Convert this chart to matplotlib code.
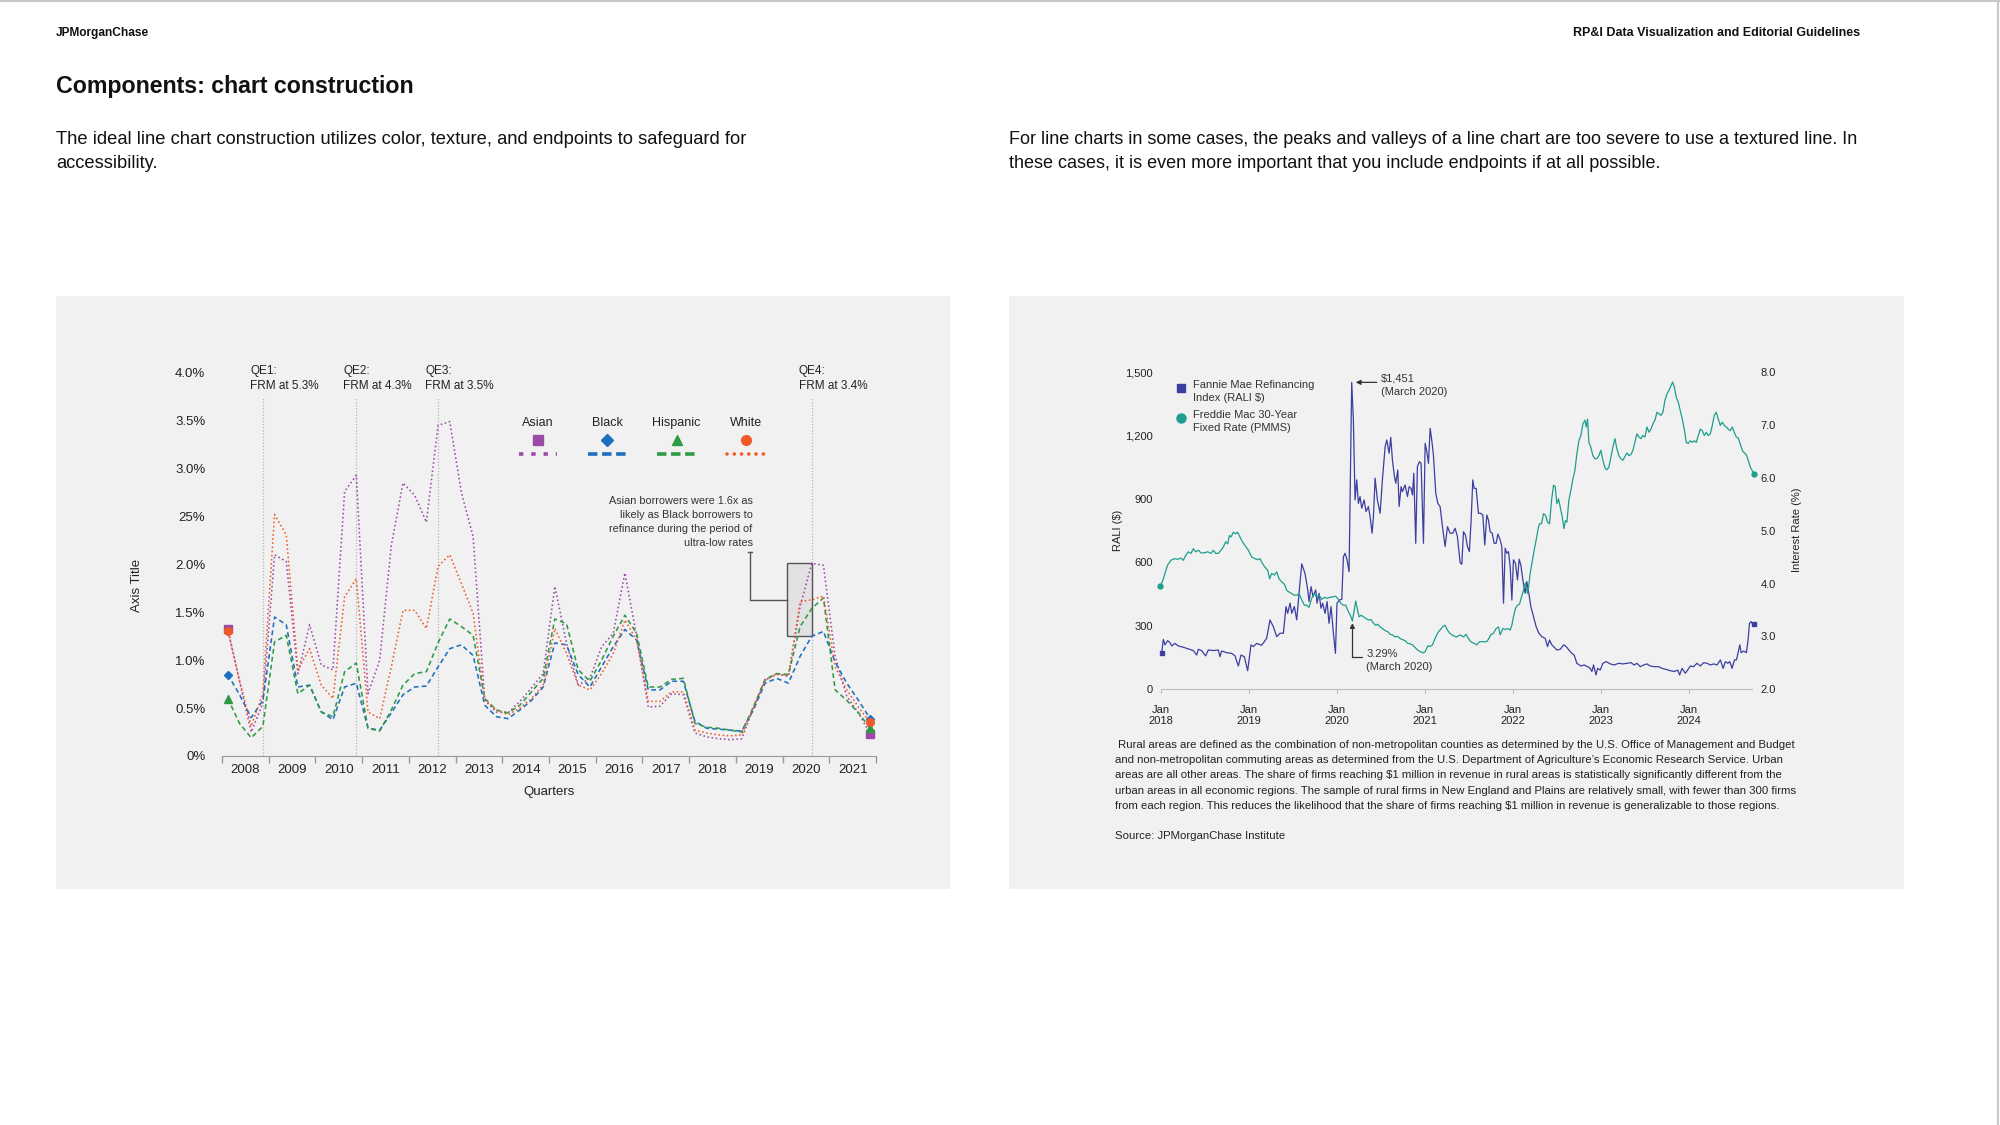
import numpy as np
import matplotlib
matplotlib.use("Agg")
import matplotlib.pyplot as plt
from matplotlib.patches import Rectangle
from matplotlib.lines import Line2D

plt.rcParams['font.family'] = ['Liberation Sans', 'DejaVu Sans']

# ---------------- left chart data (quarterly refinance rates, %) ----------------
years = [str(y) for y in range(2008, 2022)]
asian = [1.33, 0.78, 0.25, 0.55, 2.10, 2.03, 0.86, 1.37, 0.95, 0.90,
         2.76, 2.93, 0.65, 1.00, 2.20, 2.85, 2.72, 2.44, 3.45, 3.49,
         2.75, 2.29, 0.58, 0.46, 0.45, 0.57, 0.71, 0.86, 1.77, 1.18,
         0.74, 0.81, 1.14, 1.28, 1.91, 1.25, 0.51, 0.52, 0.65, 0.64,
         0.24, 0.20, 0.18, 0.17, 0.18, 0.50, 0.79, 0.86, 0.83, 1.56,
         2.01, 1.99, 1.04, 0.62, 0.45, 0.23]
black = [0.85, 0.64, 0.40, 0.58, 1.45, 1.37, 0.72, 0.74, 0.46, 0.38,
         0.72, 0.76, 0.29, 0.27, 0.45, 0.64, 0.72, 0.73, 0.93, 1.12,
         1.16, 1.05, 0.53, 0.41, 0.39, 0.48, 0.58, 0.72, 1.18, 1.16,
         0.85, 0.72, 0.93, 1.14, 1.32, 1.21, 0.69, 0.69, 0.78, 0.78,
         0.36, 0.29, 0.28, 0.27, 0.26, 0.48, 0.76, 0.81, 0.76, 1.04,
         1.25, 1.30, 0.98, 0.76, 0.58, 0.39]
hispanic = [0.60, 0.34, 0.19, 0.31, 1.19, 1.26, 0.65, 0.74, 0.46, 0.41,
            0.88, 0.97, 0.29, 0.26, 0.48, 0.74, 0.86, 0.88, 1.18, 1.43,
            1.35, 1.26, 0.60, 0.48, 0.45, 0.53, 0.67, 0.81, 1.43, 1.38,
            0.90, 0.78, 1.00, 1.25, 1.47, 1.28, 0.72, 0.72, 0.80, 0.81,
            0.34, 0.30, 0.29, 0.27, 0.25, 0.51, 0.80, 0.86, 0.85, 1.35,
            1.54, 1.65, 0.69, 0.58, 0.45, 0.29]
white = [1.30, 0.79, 0.31, 0.65, 2.52, 2.31, 0.90, 1.12, 0.74, 0.60,
         1.66, 1.85, 0.46, 0.39, 0.93, 1.52, 1.52, 1.33, 1.98, 2.10,
         1.80, 1.49, 0.58, 0.48, 0.43, 0.50, 0.60, 0.74, 1.33, 1.07,
         0.74, 0.69, 0.86, 1.07, 1.42, 1.21, 0.57, 0.57, 0.67, 0.67,
         0.27, 0.24, 0.22, 0.21, 0.22, 0.51, 0.79, 0.85, 0.84, 1.61,
         1.63, 1.67, 0.93, 0.69, 0.51, 0.35]
ytick_labels = ['0%', '0.5%', '1.0%', '1.5%', '2.0%', '25%', '3.0%', '3.5%', '4.0%']
qe_quarter = [3, 11, 18, 50]
qe_labels = ['QE1:\nFRM at 5.3%', 'QE2:\nFRM at 4.3%', 'QE3:\nFRM at 3.5%', 'QE4:\nFRM at 3.4%']

# ---------------- right chart data (weekly) ----------------
rali_year = [2018.004, 2018.023, 2018.042, 2018.072, 2018.099, 2018.118, 2018.155, 2018.193, 2018.250, 2018.307,
             2018.364, 2018.402, 2018.421, 2018.459, 2018.504, 2018.535, 2018.592, 2018.648, 2018.667, 2018.686,
             2018.743, 2018.800, 2018.838, 2018.876, 2018.906, 2018.944, 2018.982, 2019.020, 2019.047, 2019.085,
             2019.141, 2019.198, 2019.236, 2019.274, 2019.312, 2019.350, 2019.388, 2019.418, 2019.437, 2019.464,
             2019.483, 2019.513, 2019.540, 2019.566, 2019.597, 2019.634, 2019.665, 2019.680, 2019.703, 2019.725,
             2019.756, 2019.771, 2019.794, 2019.816, 2019.835, 2019.862, 2019.885, 2019.907, 2019.930, 2019.957,
             2019.980, 2019.998, 2020.025, 2020.052, 2020.071, 2020.089, 2020.112, 2020.135, 2020.165, 2020.184,
             2020.203, 2020.222, 2020.241, 2020.260, 2020.279, 2020.306, 2020.328, 2020.355, 2020.374, 2020.397,
             2020.412, 2020.431, 2020.457, 2020.488, 2020.514, 2020.545, 2020.564, 2020.590, 2020.609, 2020.628,
             2020.651, 2020.666, 2020.689, 2020.704, 2020.727, 2020.742, 2020.772, 2020.799, 2020.818, 2020.840,
             2020.856, 2020.871, 2020.893, 2020.912, 2020.935, 2020.954, 2020.981, 2021.000, 2021.019, 2021.038,
             2021.057, 2021.075, 2021.094, 2021.121, 2021.144, 2021.170, 2021.197, 2021.227, 2021.254, 2021.284,
             2021.314, 2021.341, 2021.367, 2021.398, 2021.417, 2021.436, 2021.458, 2021.481, 2021.503, 2021.523,
             2021.542, 2021.557, 2021.580, 2021.606, 2021.633, 2021.656, 2021.678, 2021.701, 2021.720, 2021.739,
             2021.762, 2021.785, 2021.807, 2021.827, 2021.853, 2021.872, 2021.891, 2021.910, 2021.929, 2021.948,
             2021.967, 2021.986, 2022.004, 2022.027, 2022.050, 2022.069, 2022.088, 2022.111, 2022.137, 2022.156,
             2022.179, 2022.202, 2022.232, 2022.262, 2022.293, 2022.327, 2022.365, 2022.392, 2022.414, 2022.441,
             2022.467, 2022.498, 2022.536, 2022.574, 2022.604, 2022.634, 2022.668, 2022.695, 2022.725, 2022.771,
             2022.809, 2022.847, 2022.877, 2022.896, 2022.915, 2022.942, 2022.961, 2022.991, 2023.021, 2023.059,
             2023.105, 2023.150, 2023.200, 2023.249, 2023.294, 2023.340, 2023.378, 2023.408, 2023.446, 2023.484,
             2023.522, 2023.560, 2023.606, 2023.655, 2023.693, 2023.731, 2023.788, 2023.833, 2023.871, 2023.894,
             2023.921, 2023.958, 2023.985, 2024.015, 2024.053, 2024.091, 2024.129, 2024.167, 2024.205, 2024.243,
             2024.281, 2024.319, 2024.357, 2024.388, 2024.414, 2024.441, 2024.464, 2024.490, 2024.517, 2024.540,
             2024.566, 2024.578, 2024.593, 2024.623, 2024.653, 2024.672, 2024.688, 2024.707, 2024.729, 2024.742]
rali_val = [170, 236, 210, 230, 220, 205, 217, 205, 199, 191,
            183, 162, 189, 183, 158, 186, 183, 186, 154, 181,
            173, 170, 158, 110, 162, 154, 88, 210, 202, 217,
            208, 241, 328, 296, 249, 265, 265, 391, 359, 407,
            359, 391, 328, 454, 593, 548, 470, 415, 485, 438,
            470, 407, 454, 383, 407, 359, 415, 312, 391, 265,
            170, 407, 422, 425, 627, 643, 612, 556, 1451, 1273,
            895, 990, 879, 911, 856, 895, 840, 864, 816, 738,
            816, 998, 895, 832, 990, 1147, 1179, 1116, 1191, 1084,
            1006, 974, 1037, 864, 958, 935, 966, 911, 958, 950,
            919, 1021, 690, 1053, 1076, 1068, 690, 1163, 1124, 1068,
            1234, 1179, 1108, 927, 879, 864, 769, 675, 769, 738,
            738, 761, 722, 598, 591, 745, 730, 675, 651, 800,
            990, 950, 950, 832, 832, 824, 682, 824, 800, 745,
            738, 690, 690, 734, 706, 675, 407, 667, 643, 651,
            580, 422, 612, 596, 517, 615, 588, 517, 454, 509,
            454, 391, 344, 296, 265, 249, 241, 202, 233, 210,
            199, 186, 189, 210, 202, 186, 170, 162, 123, 110,
            115, 107, 99, 84, 115, 68, 99, 91, 123, 131,
            120, 115, 123, 120, 123, 126, 115, 123, 107, 115,
            120, 110, 107, 107, 99, 95, 88, 84, 91, 68,
            99, 76, 91, 110, 107, 123, 110, 126, 123, 115,
            120, 115, 139, 99, 131, 123, 131, 99, 139, 139,
            186, 210, 173, 181, 173, 233, 312, 320, 304, 307]

rate_year = [2017.985, 2018.011, 2018.042, 2018.072, 2018.110, 2018.148, 2018.186, 2018.224, 2018.250, 2018.277,
             2018.307, 2018.338, 2018.364, 2018.391, 2018.421, 2018.451, 2018.489, 2018.527, 2018.565, 2018.592,
             2018.618, 2018.648, 2018.679, 2018.705, 2018.732, 2018.755, 2018.774, 2018.793, 2018.819, 2018.846,
             2018.868, 2018.895, 2018.921, 2018.952, 2018.990, 2019.028, 2019.066, 2019.096, 2019.122, 2019.149,
             2019.179, 2019.210, 2019.232, 2019.255, 2019.286, 2019.312, 2019.339, 2019.369, 2019.399, 2019.426,
             2019.452, 2019.483, 2019.513, 2019.540, 2019.566, 2019.597, 2019.627, 2019.653, 2019.680, 2019.710,
             2019.741, 2019.767, 2019.794, 2019.824, 2019.854, 2019.881, 2019.919, 2019.957, 2019.983, 2020.014,
             2020.044, 2020.071, 2020.097, 2020.127, 2020.157, 2020.173, 2020.211, 2020.230, 2020.249, 2020.272,
             2020.298, 2020.325, 2020.355, 2020.385, 2020.412, 2020.438, 2020.461, 2020.488, 2020.514, 2020.545,
             2020.575, 2020.601, 2020.628, 2020.658, 2020.689, 2020.715, 2020.742, 2020.772, 2020.802, 2020.829,
             2020.856, 2020.886, 2020.916, 2020.947, 2020.973, 2021.000, 2021.030, 2021.057, 2021.083, 2021.113,
             2021.144, 2021.174, 2021.204, 2021.227, 2021.250, 2021.280, 2021.322, 2021.360, 2021.398, 2021.436,
             2021.466, 2021.492, 2021.519, 2021.542, 2021.568, 2021.587, 2021.618, 2021.644, 2021.671, 2021.701,
             2021.724, 2021.747, 2021.777, 2021.807, 2021.834, 2021.853, 2021.883, 2021.910, 2021.936, 2021.967,
             2021.986, 2022.004, 2022.027, 2022.050, 2022.073, 2022.096, 2022.118, 2022.141, 2022.164, 2022.179,
             2022.194, 2022.217, 2022.240, 2022.262, 2022.285, 2022.300, 2022.323, 2022.346, 2022.369, 2022.392,
             2022.414, 2022.437, 2022.460, 2022.479, 2022.498, 2022.517, 2022.536, 2022.559, 2022.578, 2022.596,
             2022.612, 2022.634, 2022.657, 2022.680, 2022.703, 2022.725, 2022.748, 2022.771, 2022.794, 2022.817,
             2022.832, 2022.847, 2022.862, 2022.884, 2022.907, 2022.930, 2022.953, 2022.976, 2022.998, 2023.021,
             2023.044, 2023.067, 2023.089, 2023.112, 2023.135, 2023.158, 2023.180, 2023.203, 2023.226, 2023.249,
             2023.272, 2023.294, 2023.317, 2023.340, 2023.363, 2023.385, 2023.408, 2023.431, 2023.454, 2023.476,
             2023.499, 2023.522, 2023.545, 2023.567, 2023.590, 2023.613, 2023.636, 2023.658, 2023.681, 2023.704,
             2023.726, 2023.749, 2023.772, 2023.795, 2023.814, 2023.833, 2023.856, 2023.878, 2023.901, 2023.924,
             2023.946, 2023.969, 2023.992, 2024.015, 2024.037, 2024.060, 2024.083, 2024.106, 2024.129, 2024.151,
             2024.174, 2024.197, 2024.219, 2024.242, 2024.265, 2024.288, 2024.310, 2024.333, 2024.356, 2024.379,
             2024.401, 2024.424, 2024.447, 2024.470, 2024.492, 2024.515, 2024.538, 2024.561, 2024.583, 2024.606,
             2024.629, 2024.651, 2024.674, 2024.697, 2024.720, 2024.742]
rate_val = [3.95, 4.03, 4.19, 4.35, 4.44, 4.47, 4.46, 4.48, 4.44, 4.53,
            4.60, 4.57, 4.66, 4.60, 4.63, 4.58, 4.58, 4.60, 4.57, 4.63,
            4.57, 4.57, 4.63, 4.69, 4.79, 4.75, 4.91, 4.88, 4.97, 4.94,
            4.97, 4.88, 4.79, 4.72, 4.63, 4.50, 4.47, 4.45, 4.47, 4.38,
            4.31, 4.25, 4.09, 4.19, 4.16, 4.22, 4.09, 4.03, 3.99, 3.87,
            3.84, 3.81, 3.78, 3.78, 3.81, 3.69, 3.59, 3.59, 3.55, 3.72,
            3.81, 3.75, 3.78, 3.70, 3.74, 3.72, 3.74, 3.75, 3.76, 3.70,
            3.62, 3.59, 3.59, 3.47, 3.37, 3.29, 3.67, 3.51, 3.37, 3.40,
            3.37, 3.34, 3.31, 3.32, 3.25, 3.21, 3.23, 3.18, 3.15, 3.11,
            3.09, 3.04, 3.03, 2.99, 3.00, 2.96, 2.94, 2.92, 2.87, 2.86,
            2.84, 2.79, 2.74, 2.71, 2.69, 2.71, 2.82, 2.81, 2.84, 2.96,
            3.07, 3.13, 3.19, 3.21, 3.13, 3.06, 3.01, 2.99, 3.03, 2.99,
            3.04, 2.96, 2.90, 2.88, 2.86, 2.84, 2.90, 2.90, 2.90, 2.90,
            2.96, 3.03, 3.06, 3.15, 3.18, 3.03, 3.15, 3.13, 3.15, 3.12,
            3.21, 3.37, 3.53, 3.59, 3.61, 3.75, 3.87, 4.01, 3.81, 3.97,
            4.19, 4.41, 4.63, 4.82, 5.04, 5.13, 5.13, 5.32, 5.29, 5.16,
            5.13, 5.57, 5.86, 5.83, 5.51, 5.60, 5.45, 5.26, 5.04, 5.19,
            5.16, 5.57, 5.76, 5.98, 6.14, 6.45, 6.70, 6.80, 7.02, 7.09,
            6.96, 7.11, 6.67, 6.58, 6.42, 6.36, 6.36, 6.42, 6.52, 6.33,
            6.19, 6.15, 6.20, 6.39, 6.58, 6.74, 6.55, 6.42, 6.36, 6.33,
            6.40, 6.47, 6.42, 6.44, 6.52, 6.67, 6.83, 6.77, 6.74, 6.80,
            6.77, 6.96, 6.86, 6.92, 7.02, 7.09, 7.24, 7.21, 7.18, 7.24,
            7.46, 7.58, 7.65, 7.74, 7.81, 7.72, 7.52, 7.43, 7.27, 7.11,
            6.92, 6.67, 6.65, 6.70, 6.67, 6.70, 6.67, 6.80, 6.92, 6.89,
            6.80, 6.86, 6.80, 6.83, 6.99, 7.18, 7.24, 7.11, 6.99, 7.05,
            6.99, 6.96, 6.92, 6.89, 6.96, 6.86, 6.77, 6.75, 6.64, 6.52,
            6.47, 6.44, 6.33, 6.20, 6.13, 6.08]

footnote = [
    " Rural areas are defined as the combination of non-metropolitan counties as determined by the U.S. Office of Management and Budget",
    "and non-metropolitan commuting areas as determined from the U.S. Department of Agriculture\u2019s Economic Research Service. Urban",
    "areas are all other areas. The share of firms reaching \\$1 million in revenue in rural areas is statistically significantly different from the",
    "urban areas in all economic regions. The sample of rural firms in New England and Plains are relatively small, with fewer than 300 firms",
    "from each region. This reduces the likelihood that the share of firms reaching \\$1 million in revenue is generalizable to those regions.",
]

# ---------------- figure ----------------
W, H = 2000, 1125
fig = plt.figure(figsize=(20, 11.25), dpi=100)
fig.patch.set_facecolor('white')
PT = 72 / 100  # pixels -> points


def fx(px):
    return px / W


def fy(py):
    return 1 - py / H


# slide border and panels
fig.add_artist(Line2D([0, 1], [fy(1), fy(1)], color='#c8c8c8', lw=1.5))
fig.add_artist(Line2D([fx(1998), fx(1998)], [0, 1], color='#c8c8c8', lw=1.5))
for x0, x1 in [(56, 950), (1009, 1904)]:
    fig.add_artist(Rectangle((fx(x0), fy(889)), (x1 - x0) / W, (889 - 296) / H,
                             transform=fig.transFigure, facecolor='#f1f1f1', edgecolor='none', zorder=0))

# header texts
fig.text(fx(56), fy(33), 'JPMorganChase', fontsize=8.6, fontweight='bold', va='center', color='#111')
fig.text(fx(1860), fy(33), 'RP&I Data Visualization and Editorial Guidelines', fontsize=9.0,
         fontweight='bold', va='center', ha='right', color='#111')
fig.text(fx(56), fy(87), 'Components: chart construction', fontsize=16.7, fontweight='bold', va='center', color='#111')
fig.text(fx(56), fy(139), 'The ideal line chart construction utilizes color, texture, and endpoints to safeguard for',
         fontsize=13.2, va='center', color='#111')
fig.text(fx(56), fy(164), 'accessibility.', fontsize=13.2, va='center', color='#111')
fig.text(fx(1009), fy(139), 'For line charts in some cases, the peaks and valleys of a line chart are too severe to use a textured line. In',
         fontsize=13.0, va='center', color='#111')
fig.text(fx(1009), fy(164), 'these cases, it is even more important that you include endpoints if at all possible.',
         fontsize=13.0, va='center', color='#111')

# ---------------- left chart ----------------
ax = fig.add_axes([fx(222), fy(756), 654 / W, 383.3 / H])
ax.set_facecolor('none')
q = np.arange(len(asian))

series = [
    ('Asian', asian, '#9b4aa8', (0, (1, 1.6)), 's', 5.5),
    ('Black', black, '#1f6fc1', (0, (3, 2)), 'D', 4.5),
    ('Hispanic', hispanic, '#2f9a45', (0, (3, 2)), '^', 5.5),
    ('White', white, '#f05a28', (0, (1, 1.6)), 'o', 5.5),
]
for name, vals, col, ls, mk, ms in series:
    v = np.array(vals)
    ax.plot(q, v, color=col, lw=1.15, linestyle=ls, zorder=3)
    ax.plot(q[[0, -1]], v[[0, -1]], linestyle='none', marker=mk, ms=ms, color=col, zorder=4, clip_on=False)

for qi, lab in zip(qe_quarter, qe_labels):
    ax.vlines(qi, 0, 3.75, colors='#b5b5b5', linestyles=(0, (1, 1.5)), lw=0.9, zorder=1)
    ax.text(qi - 1.1, 4.08, lab, fontsize=8.5, va='top', ha='left', color='#222', linespacing=1.35)

ax.set_xlim(-0.5, len(asian) - 0.5)
ax.set_ylim(0, 4)
ax.set_yticks(np.arange(0, 4.01, 0.5))
ax.set_yticklabels(ytick_labels)
ax.tick_params(axis='y', length=0, pad=12, labelsize=9.5, labelcolor='#222')
ax.set_xticks(np.arange(-0.5, len(asian), 4))
ax.set_xticklabels([])
ax.set_xticks(np.arange(1.5, len(asian), 4), minor=True)
ax.set_xticklabels(years, minor=True)
ax.tick_params(axis='x', which='major', length=5, color='#9a9a9a', width=1)
ax.tick_params(axis='x', which='minor', length=0, pad=6, labelsize=9.5, labelcolor='#222')
for s in ['top', 'right', 'left']:
    ax.spines[s].set_visible(False)
ax.spines['bottom'].set_color('#9a9a9a')

fig.text(fx(137), fy(585), 'Axis Title', rotation=90, fontsize=9.5, ha='center', va='center', color='#222')
fig.text(fx(549), fy(792), 'Quarters', fontsize=9.5, ha='center', va='center', color='#222')

# custom legend: label, marker, line sample
leg_x = [0.483, 0.589, 0.695, 0.801]
leg_dash = [(1.2, 2.2), (2.6, 1.3), (2.6, 1.3), (0.01, 2.0)]
for (name, vals, col, ls, mk, ms), lx, dsh in zip(series, leg_x, leg_dash):
    ax.text(lx, 0.868, name, transform=ax.transAxes, ha='center', va='center', fontsize=9, color='#222')
    ax.plot([lx], [0.824], transform=ax.transAxes, marker=mk, ms=ms + 1.5, color=col, clip_on=False)
    ax.plot([lx - 0.0294, lx + 0.0294], [0.789, 0.789], transform=ax.transAxes, color=col, lw=2.6,
            dashes=dsh, dash_capstyle='round' if name == 'White' else 'butt', clip_on=False)

# callout
ax.add_patch(Rectangle((47.9, 1.25), 50 - 47.9, 2.01 - 1.25, facecolor=(0.82, 0.82, 0.82, 0.45),
                       edgecolor='#555555', lw=1, zorder=2))
ax.plot([44.71, 44.71, 47.9], [2.13, 1.63, 1.63], color='#555555', lw=1, zorder=2)
ax.plot([44.55, 44.87], [2.13, 2.13], color='#555555', lw=1, zorder=2)
ax.text(44.94, 2.44, 'Asian borrowers were 1.6x as\nlikely as Black borrowers to\nrefinance during the period of\nultra-low rates',
        ha='right', va='center', fontsize=7.8, color='#333', linespacing=1.5)

# ---------------- right chart ----------------
ax2 = fig.add_axes([fx(1161.3), fy(689.3), 591 / W, 317.3 / H])
ax2.set_facecolor('none')
ax2r = ax2.twinx()
navy = '#3c3f9f'
teal = '#1e9e8e'
ax2.plot(rali_year, rali_val, color=navy, lw=0.9, clip_on=False)
ax2.plot([rali_year[0], rali_year[-1]], [rali_val[0], rali_val[-1]], linestyle='none', marker='s', ms=3.5,
         color=navy, clip_on=False)
ax2r.plot(rate_year, rate_val, color=teal, lw=0.9, clip_on=False)
ax2r.plot([rate_year[0], rate_year[-1]], [rate_val[0], rate_val[-1]], linestyle='none', marker='o', ms=3.5,
          color=teal, clip_on=False)

ax2.set_xlim(2018, 2024.72)
ax2.set_ylim(0, 1500)
ax2r.set_ylim(2, 8)
ax2.set_yticks(range(0, 1501, 300))
ax2.set_yticklabels(['0', '300', '600', '900', '1,200', '1,500'])
ax2r.set_yticks(range(2, 9))
ax2r.set_yticklabels([f'{v:.1f}' for v in range(2, 9)])
ax2.set_xticks(range(2018, 2025))
ax2.set_xticklabels([f'Jan\n{y}' for y in range(2018, 2025)], linespacing=1.15)
ax2.tick_params(axis='y', length=0, pad=6, labelsize=8, labelcolor='#222')
ax2r.tick_params(axis='y', length=0, pad=6, labelsize=8, labelcolor='#222')
ax2.tick_params(axis='x', length=3, color='#bbbbbb', pad=8, labelsize=8, labelcolor='#222')
for a in (ax2, ax2r):
    for s in ['top', 'right', 'left']:
        a.spines[s].set_visible(False)
ax2r.spines['bottom'].set_visible(False)
ax2.spines['bottom'].set_color('#bbbbbb')

fig.text(fx(1118), fy(530), 'RALI (\\$)', rotation=90, fontsize=8, ha='center', va='center', color='#222')
fig.text(fx(1797), fy(530), 'Interest Rate (%)', rotation=90, fontsize=8, ha='center', va='center', color='#222')

# legend
ax2.plot([0.0333], [0.9486], transform=ax2.transAxes, marker='s', ms=6, color=navy, clip_on=False)
ax2.plot([0.0333], [0.8540], transform=ax2.transAxes, marker='o', ms=6.5, color=teal, clip_on=False)
ax2.text(0.0531, 0.9486 + 0.027, 'Fannie Mae Refinancing\nIndex (RALI \\$)', transform=ax2.transAxes,
         fontsize=8, va='top', ha='left', color='#333', linespacing=1.4)
ax2.text(0.0531, 0.8540 + 0.027, 'Freddie Mac 30-Year\nFixed Rate (PMMS)', transform=ax2.transAxes,
         fontsize=8, va='top', ha='left', color='#333', linespacing=1.4)

# annotations
ann = dict(fontsize=8, color='#333', linespacing=1.4, textcoords='offset points')
arr = dict(arrowstyle='-|>', color='#333', lw=0.9, mutation_scale=7, shrinkA=0)
pk = int(np.argmax(rali_val))
ax2.annotate('', xy=(rali_year[pk], rali_val[pk]), xytext=(25 * PT, 0), textcoords='offset points',
             arrowprops=dict(arr, shrinkB=4 * PT))
ax2.annotate('\\$1,451\n(March 2020)', xy=(rali_year[pk], rali_val[pk]), xytext=(29 * PT, 9 * PT),
             ha='left', va='top', **ann)

dip = rate_val.index(3.29)
ax2r.annotate('', xy=(rate_year[dip], rate_val[dip]), xytext=(10 * PT, -36 * PT), textcoords='offset points',
              arrowprops=dict(arr, shrinkB=2 * PT, connectionstyle='angle,angleA=0,angleB=90,rad=0'))
ax2r.annotate('3.29%\n(March 2020)', xy=(rate_year[dip], rate_val[dip]), xytext=(14 * PT, -28 * PT),
              ha='left', va='top', **ann)

ax2r.annotate('', xy=(rate_year[-1], rate_val[-1]), xytext=(-9 * PT, -21 * PT), textcoords='offset points',
              arrowprops=dict(arr, shrinkB=5 * PT, connectionstyle='angle,angleA=0,angleB=90,rad=0'))
ax2r.annotate('6.08%\n(September 2024)', xy=(rate_year[-1], rate_val[-1]), xytext=(-11 * PT, -13 * PT),
              ha='right', va='top', multialignment='right', **ann)

ax2.annotate('', xy=(rali_year[-1], rali_val[-1]), xytext=(-9 * PT, 24 * PT), textcoords='offset points',
             arrowprops=dict(arr, shrinkB=6 * PT, connectionstyle='angle,angleA=0,angleB=90,rad=0'))
ax2.annotate('\\$307\n(September 2024)', xy=(rali_year[-1], rali_val[-1]), xytext=(-11 * PT, 32 * PT),
             ha='right', va='top', multialignment='right', **ann)

for i, line in enumerate(footnote):
    fig.text(fx(1115), fy(745 + i * 15.2), line, fontsize=8.2, va='center', ha='left', color='#222')
fig.text(fx(1115), fy(836), 'Source: JPMorganChase Institute', fontsize=8.2, va='center', ha='left', color='#222')

fig.savefig('out.png', dpi=100, facecolor='white')
